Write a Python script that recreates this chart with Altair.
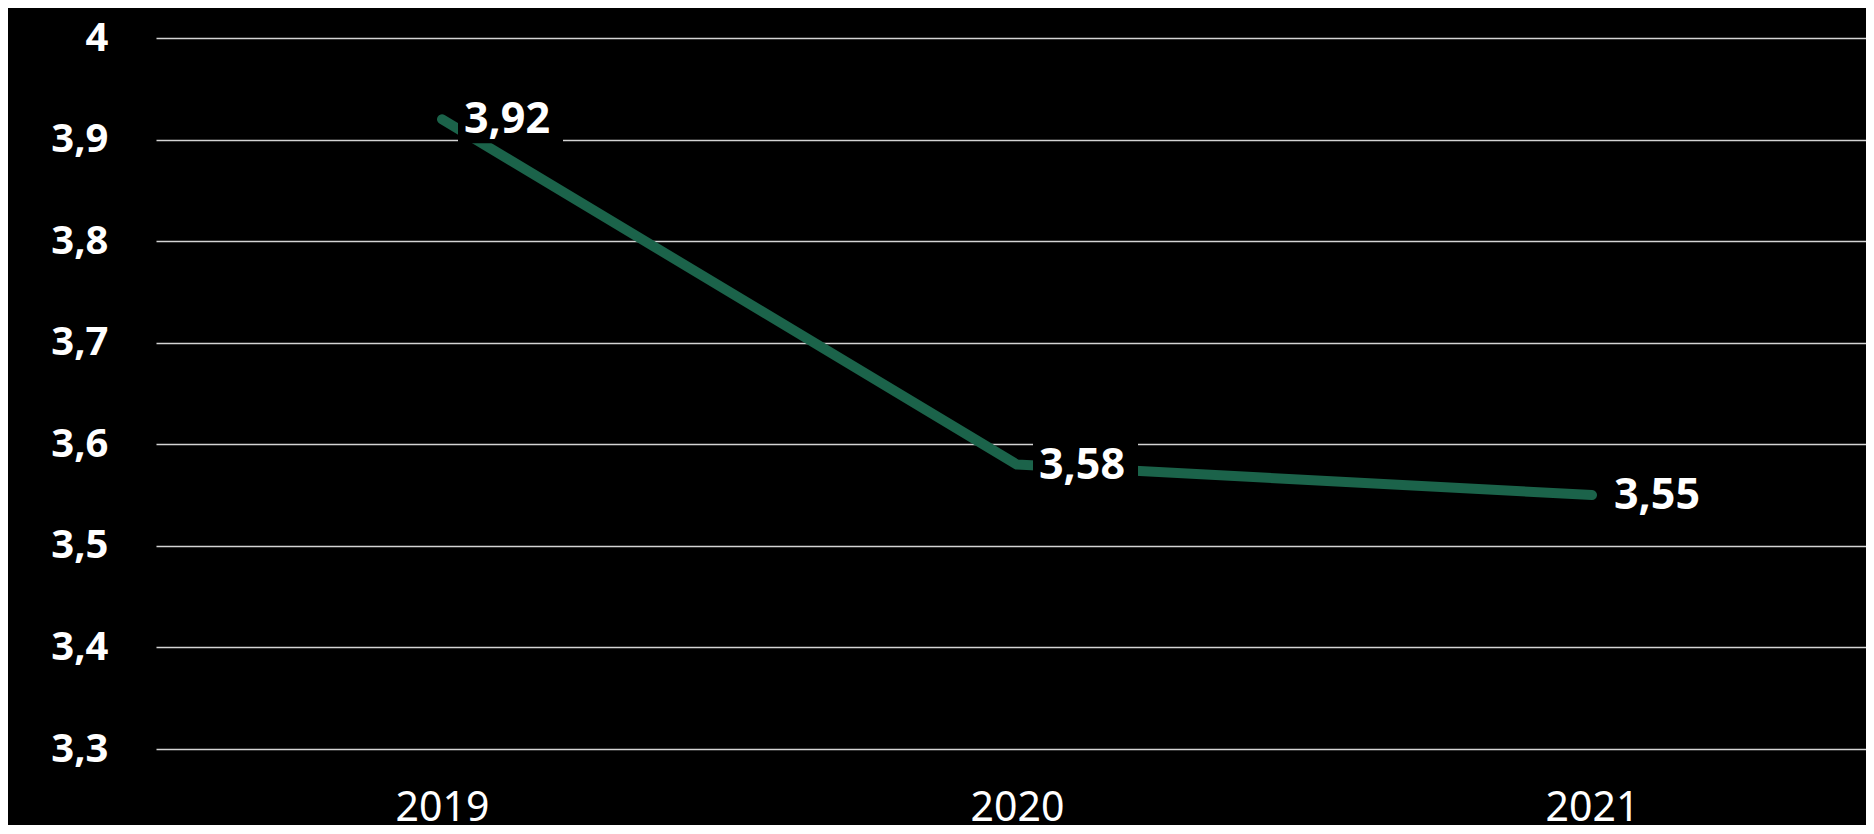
import altair as alt
import pandas as pd

years = [2019, 2020, 2021]
values = [3.92, 3.58, 3.55]
labels = ["3,92", "3,58", "3,55"]
y_ticks = [3.3, 3.4, 3.5, 3.6, 3.7, 3.8, 3.9, 4.0]

df = pd.DataFrame({"year": years, "value": values, "label": labels})

FONT = "Noto Sans"
GREEN = "#1b634a"

x_enc = alt.X(
    "year:Q",
    scale=alt.Scale(domain=[2018.5026, 2021.4765], nice=False, zero=False),
    axis=alt.Axis(
        values=years, format="d", title=None, grid=False, domain=False, ticks=False,
        labelFont=FONT, labelFontSize=41, labelFontWeight="normal", labelColor="#ffffff",
        labelPadding=39,
    ),
)
y_enc = alt.Y(
    "value:Q",
    scale=alt.Scale(domain=[3.3, 4.0], nice=False, zero=False),
    axis=alt.Axis(
        values=y_ticks, title=None, grid=True, gridColor="#d4d4d4", gridWidth=1.6,
        domain=False, ticks=False, tickSize=0,
        labelExpr="replace(format(datum.value, '.1~f'), '.', ',')",
        labelFont=FONT, labelFontSize=40, labelFontWeight="bold", labelColor="#ffffff",
        labelPadding=48,
    ),
)

line = alt.Chart(df).mark_line(color=GREEN, strokeWidth=10, strokeCap="round", strokeJoin="round").encode(
    x=x_enc, y=y_enc
)

boxes = alt.Chart(df).mark_rect(color="#000000", xOffset=16, x2Offset=121, yOffset=-24, y2Offset=24).encode(
    x="year:Q", x2="year:Q", y="value:Q", y2="value:Q"
)

text = alt.Chart(df).mark_text(
    align="left", baseline="middle", dx=22, dy=1, font=FONT, fontSize=43,
    fontWeight="bold", color="#ffffff",
).encode(x="year:Q", y="value:Q", text="label:N")

chart = alt.layer(line, boxes, text).properties(
    width=1710, height=711, background="#000000",
    autosize=alt.AutoSizeParams(type="none"),
    padding={"left": 148, "top": 30, "right": 0, "bottom": 76},
).configure_view(stroke=None)

chart.save("out.html", embed_options={"renderer": "svg", "actions": False})
